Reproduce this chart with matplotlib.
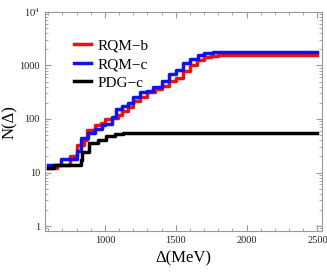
import matplotlib
matplotlib.use("Agg")
import matplotlib.pyplot as plt
from matplotlib.ticker import LogLocator, NullFormatter, FixedLocator, MultipleLocator

plt.rcParams['font.family'] = ['Liberation Serif', 'DejaVu Serif']
plt.rcParams['mathtext.fontset'] = 'stix'

# step points: energy (MeV) where the count changes, count after it
rqmb_E = [595, 660, 750, 800, 830, 850, 870, 930, 970, 1000, 1050, 1090, 1120, 1160, 1200,
          1250, 1300, 1350, 1400, 1450, 1500, 1550, 1600, 1650, 1700, 1750, 1800, 2500]
rqmb_N = [12, 14, 20, 32, 32, 40, 62, 76, 85, 100, 105, 117, 140, 170, 220,
          262, 320, 360, 414, 514, 590, 800, 1000, 1240, 1420, 1510, 1585, 1585]

rqmc_E = [595, 690, 800, 830, 880, 930, 980, 1000, 1050, 1080, 1120, 1160, 1200, 1250,
          1300, 1340, 1400, 1450, 1500, 1550, 1600, 1660, 1700, 1760, 2500]
rqmc_N = [14, 18, 25, 45, 55, 66, 78, 82, 110, 155, 175, 200, 260, 314,
          330, 390, 514, 700, 840, 1100, 1300, 1590, 1700, 1770, 1770]

pdg_E = [595, 640, 830, 840, 890, 950, 1010, 1070, 1130, 2500]
pdg_N = [12, 14, 17, 24, 35, 40, 49, 52, 54, 54]

fig = plt.figure(figsize=(3.27, 2.72), dpi=100)
ax = fig.add_axes([0.137, 0.15, 0.847, 0.806])

ax.step(rqmb_E, rqmb_N, where='post', color='#ee1111', lw=2.5, label='RQM\u2212b')
ax.step(rqmc_E, rqmc_N, where='post', color='#1111ee', lw=2.5, label='RQM\u2212c')
ax.step(pdg_E, pdg_N, where='post', color='black', lw=2.5, label='PDG\u2212c')

ax.set_yscale('log')
ax.set_xlim(575, 2531)
ax.set_ylim(0.8, 1e4)
ax.set_yticks([1, 10, 100, 1000, 1e4])
ax.set_yticklabels(['1', '10', '100', '1000', r'$10^4$'])
ax.yaxis.set_minor_locator(LogLocator(base=10, subs=range(2, 10)))
ax.yaxis.set_minor_formatter(NullFormatter())
ax.xaxis.set_major_locator(FixedLocator([1000, 1500, 2000, 2500]))
ax.xaxis.set_minor_locator(MultipleLocator(100))

for s in ax.spines.values():
    s.set_color('#999999')
ax.tick_params(which='both', direction='in', top=True, right=True, color='#999999',
               labelsize=7.5, labelcolor='#222222')
ax.tick_params(which='major', length=4)
ax.tick_params(which='minor', length=2)

ax.set_xlabel('\u0394(MeV)', fontsize=12)
ax.set_ylabel('N(\u0394)', fontsize=12, labelpad=1)

ax.legend(loc='upper left', bbox_to_anchor=(0.085, 0.905), frameon=False, fontsize=11,
          handlelength=1.1, handletextpad=0.4, labelspacing=0.32, borderaxespad=0)

fig.savefig('out.png', dpi=100)
